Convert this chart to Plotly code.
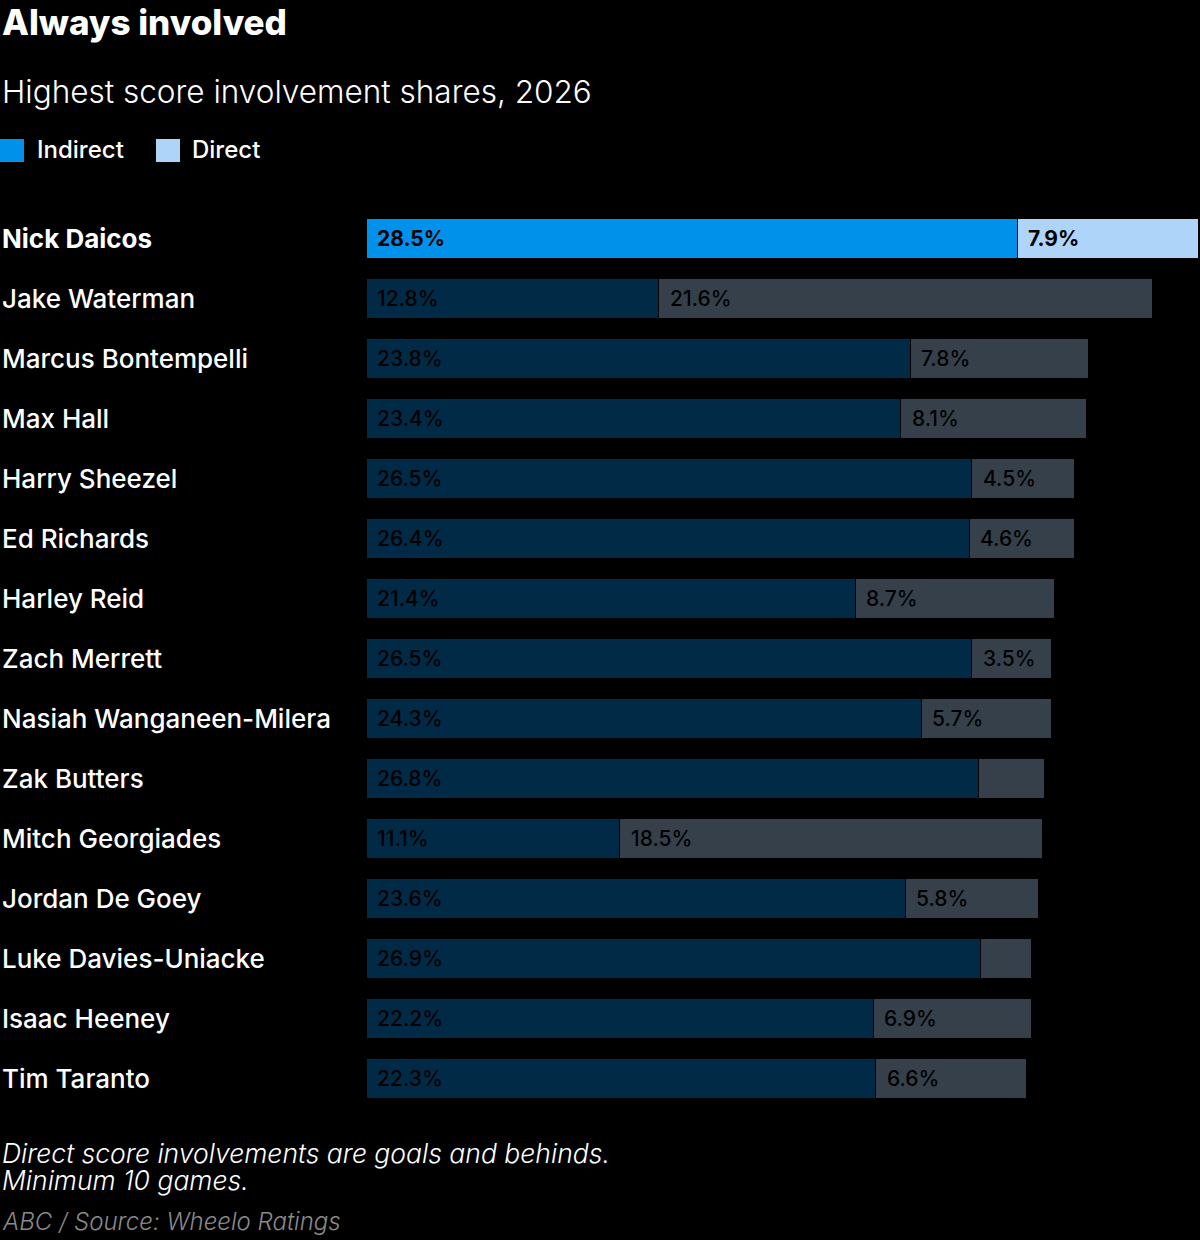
import plotly.graph_objects as go

players = ["Nick Daicos", "Jake Waterman", "Marcus Bontempelli", "Max Hall",
           "Harry Sheezel", "Ed Richards", "Harley Reid", "Zach Merrett",
           "Nasiah Wanganeen-Milera", "Zak Butters", "Mitch Georgiades",
           "Jordan De Goey", "Luke Davies-Uniacke", "Isaac Heeney", "Tim Taranto"]
indirect = [28.5, 12.8, 23.8, 23.4, 26.5, 26.4, 21.4, 26.5, 24.3, 26.8, 11.1, 23.6, 26.9, 22.2, 22.3]
direct = [7.9, 21.6, 7.8, 8.1, 4.5, 4.6, 8.7, 3.5, 5.7, 2.9, 18.5, 5.8, 2.2, 6.9, 6.6]
highlight = "Nick Daicos"

FONT = "Inter"
W, H = 1200, 1240
L, R, T, B = 366, 2, 208, 132


def px_x(x):
    return (x - L) / (W - L - R)


def px_y(y):
    return (H - B - y) / (H - T - B)


hl = [p == highlight for p in players]
ind_col = ["#0091EA" if h else "#002A45" for h in hl]
dir_col = ["#AED4FA" if h else "#36404B" for h in hl]

fig = go.Figure()
fig.add_trace(go.Bar(
    y=players, x=indirect, orientation="h", name="Indirect",
    marker=dict(color=ind_col, line=dict(color="#000000", width=1)),
    hoverinfo="skip",
))
fig.add_trace(go.Bar(
    y=players, x=direct, orientation="h", name="Direct",
    marker=dict(color=dir_col, line=dict(color="#000000", width=1)),
    hoverinfo="skip",
))

ann = []
for p, i, d, h in zip(players, indirect, direct, hl):
    ann.append(dict(
        x=px_x(0), xref="paper", y=p, yref="y", xanchor="left", yanchor="middle",
        text=p, showarrow=False,
        font=dict(family=FONT, size=26, color="#ffffff", weight=700 if h else 500),
    ))
    lab_font = dict(family=FONT, size=21, color="#000000", weight=700 if h else 500)
    ann.append(dict(
        x=0, xref="x", y=p, yref="y", xanchor="left", yanchor="middle", xshift=9,
        text=f"{i:.1f}%", showarrow=False, font=lab_font,
    ))
    # small direct shares are left unlabelled
    if d >= 3:
        ann.append(dict(
            x=i, xref="x", y=p, yref="y", xanchor="left", yanchor="middle", xshift=9,
            text=f"{d:.1f}%", showarrow=False, font=lab_font,
        ))

n_bar_ann = len(ann)
ann += [
    dict(x=px_x(0), y=px_y(22), text="Always involved",
         font=dict(family=FONT, size=35, color="#ffffff", weight=800)),
    dict(x=px_x(0), y=px_y(91), text="Highest score involvement shares, 2026",
         font=dict(family=FONT, size=31.5, color="#ffffff", weight=300)),
    dict(x=px_x(35), y=px_y(150), text="Indirect",
         font=dict(family=FONT, size=24, color="#ffffff", weight=500)),
    dict(x=px_x(190), y=px_y(150), text="Direct",
         font=dict(family=FONT, size=24, color="#ffffff", weight=500)),
    dict(x=px_x(0), y=px_y(1153), text="<i>Direct score involvements are goals and behinds.</i>",
         font=dict(family=FONT, size=26.5, color="#ffffff", weight=300)),
    dict(x=px_x(0), y=px_y(1180), text="<i>Minimum 10 games.</i>",
         font=dict(family=FONT, size=26.5, color="#ffffff", weight=300)),
    dict(x=px_x(0), y=px_y(1221), text="<i>ABC / Source: Wheelo Ratings</i>",
         font=dict(family=FONT, size=24, color="#8a8a8a", weight=300)),
]
for a in ann[n_bar_ann:]:
    a.update(xref="paper", yref="paper", xanchor="left", yanchor="middle",
             showarrow=False, align="left")

shapes = [
    dict(type="rect", xref="paper", yref="paper", x0=px_x(0), x1=px_x(24),
         y0=px_y(139), y1=px_y(162), fillcolor="#0091EA", line=dict(width=0)),
    dict(type="rect", xref="paper", yref="paper", x0=px_x(156), x1=px_x(180),
         y0=px_y(139), y1=px_y(162), fillcolor="#AED4FA", line=dict(width=0)),
]

fig.update_layout(
    width=W, height=H, barmode="stack", bargap=1 / 3,
    margin=dict(l=L, r=R, t=T, b=B),
    paper_bgcolor="#000000", plot_bgcolor="#000000",
    showlegend=False,
    font=dict(family=FONT, color="#ffffff"),
    xaxis=dict(range=[0, 36.4], visible=False, fixedrange=True),
    yaxis=dict(autorange="reversed", showticklabels=False, showgrid=False,
               zeroline=False, fixedrange=True),
    annotations=ann, shapes=shapes,
)

fig.write_html(
    "out.html",
    config={"displayModeBar": False},
    post_script="document.body.style.margin='0';document.body.style.background='#000';",
)
